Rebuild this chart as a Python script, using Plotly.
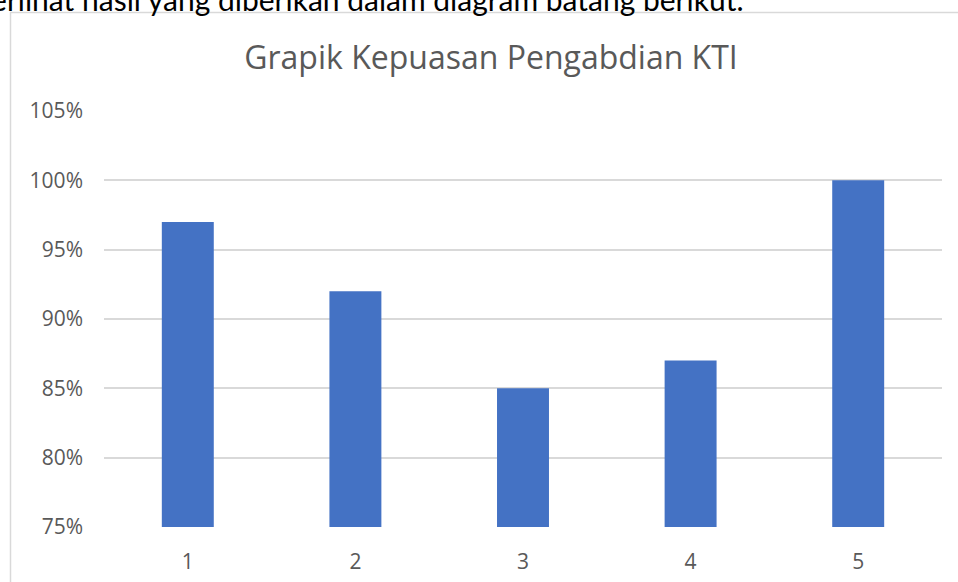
import plotly.graph_objects as go

categories = ["1", "2", "3", "4", "5"]
values = [0.97, 0.92, 0.85, 0.87, 1.00]
tick_vals = [0.75, 0.80, 0.85, 0.90, 0.95, 1.00, 1.05]
tick_text = ["75%", "80%", "85%", "90%", "95%", "100%", "105%"]
title_text = "Grapik Kepuasan Pengabdian KTI"
caption_text = "Terlihat hasil yang diberikan dalam diagram batang berikut."

W, H = 958, 582
L, R, T, B = 104, 16, 111, 55
pw, ph = W - L - R, H - T - B

def px_x(x):
    return (x - L) / pw

def px_y(y):
    return 1 - (y - T) / ph

fig = go.Figure(go.Bar(
    x=categories, y=values, width=0.31,
    marker=dict(color="#4472c4", line=dict(width=0)),
    hoverinfo="skip",
))

fig.update_layout(
    width=W, height=H,
    margin=dict(l=L, r=R, t=T, b=B),
    paper_bgcolor="white", plot_bgcolor="white",
    showlegend=False,
    font=dict(family="Open Sans", color="#595959"),
    title=dict(text=title_text, x=491 / W, xref="container", xanchor="center",
               y=1 - 58 / H, yanchor="middle",
               font=dict(family="Open Sans", size=32, color="#595959")),
    xaxis=dict(showgrid=False, showline=False, zeroline=False, ticks="",
               ticklabelstandoff=20, automargin=False,
               tickfont=dict(size=21, color="#595959")),
    yaxis=dict(range=[0.75, 1.05], tickvals=tick_vals, ticktext=tick_text,
               showgrid=True, gridcolor="#d9d9d9", gridwidth=1.5,
               zeroline=False, showline=False, ticks="",
               ticklabelstandoff=20, automargin=False,
               tickfont=dict(size=21, color="#595959")),
    shapes=[dict(type="rect", xref="paper", yref="paper",
                 x0=px_x(10.5), x1=px_x(990), y0=px_y(620), y1=px_y(12.5),
                 line=dict(color="#d9d9d9", width=1.5), fillcolor="rgba(0,0,0,0)",
                 layer="below")],
    annotations=[dict(text=caption_text, xref="paper", yref="paper",
                      x=px_x(746), y=px_y(-1.5), xanchor="right", yanchor="middle",
                      showarrow=False,
                      font=dict(family="Lato", size=30, color="black"))],
)

fig.write_html("out.html", config={"displayModeBar": False},
               post_script="document.body.style.margin='0';document.body.style.overflow='hidden';")
